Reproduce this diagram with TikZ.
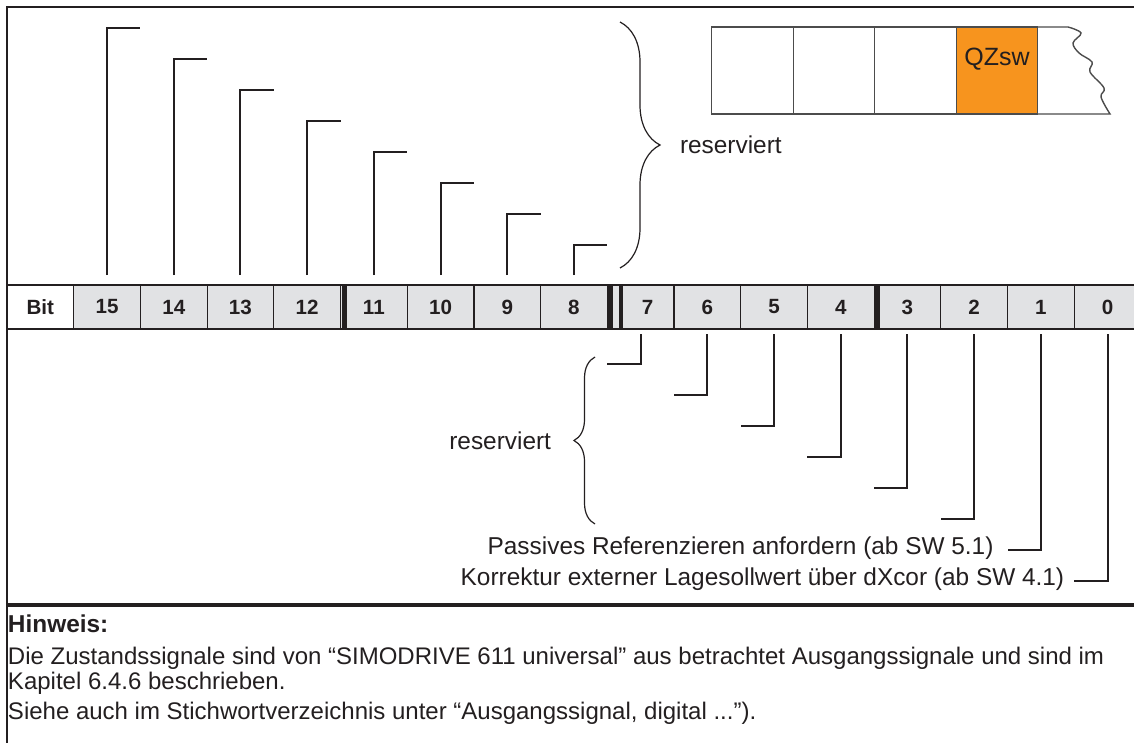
\documentclass[tikz,border=0pt]{standalone}
\usepackage{fontspec}
\setmainfont{Liberation Sans}
\usetikzlibrary{positioning, decorations.pathreplacing, calc}
\definecolor{cellgray}{RGB}{225,226,228}
\definecolor{qzorange}{RGB}{247,148,30}
\definecolor{inkdark}{RGB}{35,31,32}
\tikzset{
    bitcell/.style={draw=inkdark, line width=0.6pt, fill=cellgray, minimum width=33.35pt, minimum height=22pt, inner sep=0pt, outer sep=0pt, text=inkdark, font=\fontsize{10.3pt}{12pt}\selectfont\bfseries},
    regbox/.style={draw=black!70, line width=0.7pt, minimum width=40.75pt, minimum height=43.5pt, inner sep=0pt, outer sep=0pt},
    bitline/.style={draw=inkdark, line width=1pt},
    sepline/.style={draw=inkdark, line width=2.4pt},
    curly/.style={decorate, decoration={brace, amplitude=#1}, draw=inkdark, line width=0.6pt},
    txt/.style={inner sep=0pt, outer sep=0pt, text=inkdark, font=\fontsize{12.2pt}{14pt}\selectfont},
    notetxt/.style={txt, anchor=base west, font=\fontsize{12pt}{14pt}\selectfont}
}
\begin{document}
\begin{tikzpicture}[x=0.5pt, y=-0.5pt]
  \useasboundingbox (0,0) rectangle (1134,743);
  \clip (0,0) rectangle (1134,743);
  \draw[inkdark, line width=1pt] (7,760) -- (7,7) -- (1160,7);
  \draw[inkdark, line width=2pt] (7,605) -- (1160,605);
  \node(R1)[regbox] at (752.5,70.5){};
  \node(R2)[regbox, right=0pt of R1]{};
  \node(R3)[regbox, right=0pt of R2]{};
  \node(R4)[regbox, fill=qzorange, right=0pt of R3]{};
  \node(QZ)[txt, font=\fontsize{12.5pt}{14pt}\selectfont, below=10.5pt of R4.north]{QZsw};
  \draw[black!70, line width=0.7pt] (R4.north east) -- plot[smooth, tension=.6] coordinates {(1068,27) (1081,33) (1073,43) (1079,53) (1092,62) (1090,72) (1104,88) (1101,97) (1110,114)} -- (R4.south east);
  \node(Cbit)[bitcell, fill=white] at (40.35,307){Bit};
  \node(C15)[bitcell, right=0pt of Cbit]{15};
  \node(C14)[bitcell, right=0pt of C15]{14};
  \node(C13)[bitcell, right=0pt of C14]{13};
  \node(C12)[bitcell, right=0pt of C13]{12};
  \node(C11)[bitcell, right=0pt of C12]{11};
  \node(C10)[bitcell, right=0pt of C11]{10};
  \node(C9)[bitcell, right=0pt of C10]{9};
  \node(C8)[bitcell, right=0pt of C9]{8};
  \node(C7)[bitcell, right=0pt of C8]{\hspace*{7pt}7};
  \node(C6)[bitcell, right=0pt of C7]{6};
  \node(C5)[bitcell, right=0pt of C6]{5};
  \node(C4)[bitcell, right=0pt of C5]{4};
  \node(C3)[bitcell, right=0pt of C4]{3};
  \node(C2)[bitcell, right=0pt of C3]{2};
  \node(C1)[bitcell, right=0pt of C2]{1};
  \node(C0)[bitcell, right=0pt of C1]{0};
  \draw[sepline] ([xshift=1.8pt]C12.north east) -- ([xshift=1.8pt]C12.south east);
  \draw[sepline] ([xshift=1.8pt]C4.north east) -- ([xshift=1.8pt]C4.south east);
  \draw[sepline, line width=2.2pt] ([xshift=1.5pt]C8.north east) -- ([xshift=1.5pt]C8.south east);
  \draw[sepline, line width=2.2pt] ([xshift=6.7pt]C8.north east) -- ([xshift=6.7pt]C8.south east);
  \draw[bitline] ([yshift=5pt]C15.north) |- ([yshift=128.5pt]C15.north east);
  \draw[bitline] ([yshift=5pt]C14.north) |- ([yshift=113pt]C14.north east);
  \draw[bitline] ([yshift=5pt]C13.north) |- ([yshift=97.5pt]C13.north east);
  \draw[bitline] ([yshift=5pt]C12.north) |- ([yshift=82pt]C12.north east);
  \draw[bitline] ([yshift=5pt]C11.north) |- ([yshift=66.5pt]C11.north east);
  \draw[bitline] ([yshift=5pt]C10.north) |- ([yshift=51pt]C10.north east);
  \draw[bitline] ([yshift=5pt]C9.north) |- ([yshift=35.5pt]C9.north east);
  \draw[bitline] ([yshift=5pt]C8.north) |- ([yshift=20pt]C8.north east);
  \draw[bitline] ([yshift=-2.5pt]C7.south) |- ([yshift=-17.5pt]C7.south west);
  \draw[bitline] ([yshift=-2.5pt]C6.south) |- ([yshift=-33pt]C6.south west);
  \draw[bitline] ([yshift=-2.5pt]C5.south) |- ([yshift=-48.5pt]C5.south west);
  \draw[bitline] ([yshift=-2.5pt]C4.south) |- ([yshift=-64pt]C4.south west);
  \draw[bitline] ([yshift=-2.5pt]C3.south) |- ([yshift=-79.5pt]C3.south west);
  \draw[bitline] ([yshift=-2.5pt]C2.south) |- ([yshift=-95pt]C2.south west);
  \draw[bitline] ([yshift=-2.5pt]C1.south) |- ([yshift=-110.5pt]C1.south west);
  \draw[bitline] ([yshift=-2.5pt]C0.south) |- ([yshift=-126pt]C0.south west);
  \coordinate(UBtop) at (620,22);
  \coordinate(UBbot) at (620,268);
  \draw[curly=20pt] (UBtop) -- (UBbot);
  \node(UBtext)[txt, anchor=west] at (680,145){reserviert};
  \coordinate(LBbot) at (595,524);
  \coordinate(LBtop) at (595,357);
  \draw[curly=10.5pt] (LBbot) -- (LBtop);
  \node(LBtext)[txt, anchor=east] at (551,441){reserviert};
  \node(Passiv)[txt, anchor=east] at ([xshift=-7pt, yshift=-109.5pt]C1.south west){Passives Referenzieren anfordern (ab SW 5.1)};
  \node(Korr)[txt, anchor=east] at ([xshift=-5pt, yshift=-125pt]C0.south west){Korrektur externer Lagesollwert über dXcor (ab SW 4.1)};
  \node(Hinweis)[notetxt, font=\fontsize{12.2pt}{14pt}\selectfont\bfseries] at (8,632){Hinweis:};
  \node(Note1)[notetxt] at (8,664){Die Zustandssignale sind von “SIMODRIVE 611 universal” aus betrachtet Ausgangssignale und sind im};
  \node(Note2)[notetxt] at (8,689){Kapitel 6.4.6 beschrieben.};
  \node(Note3)[notetxt] at (8,719){Siehe auch im Stichwortverzeichnis unter “Ausgangssignal, digital ...”).};
\end{tikzpicture}
\end{document}
